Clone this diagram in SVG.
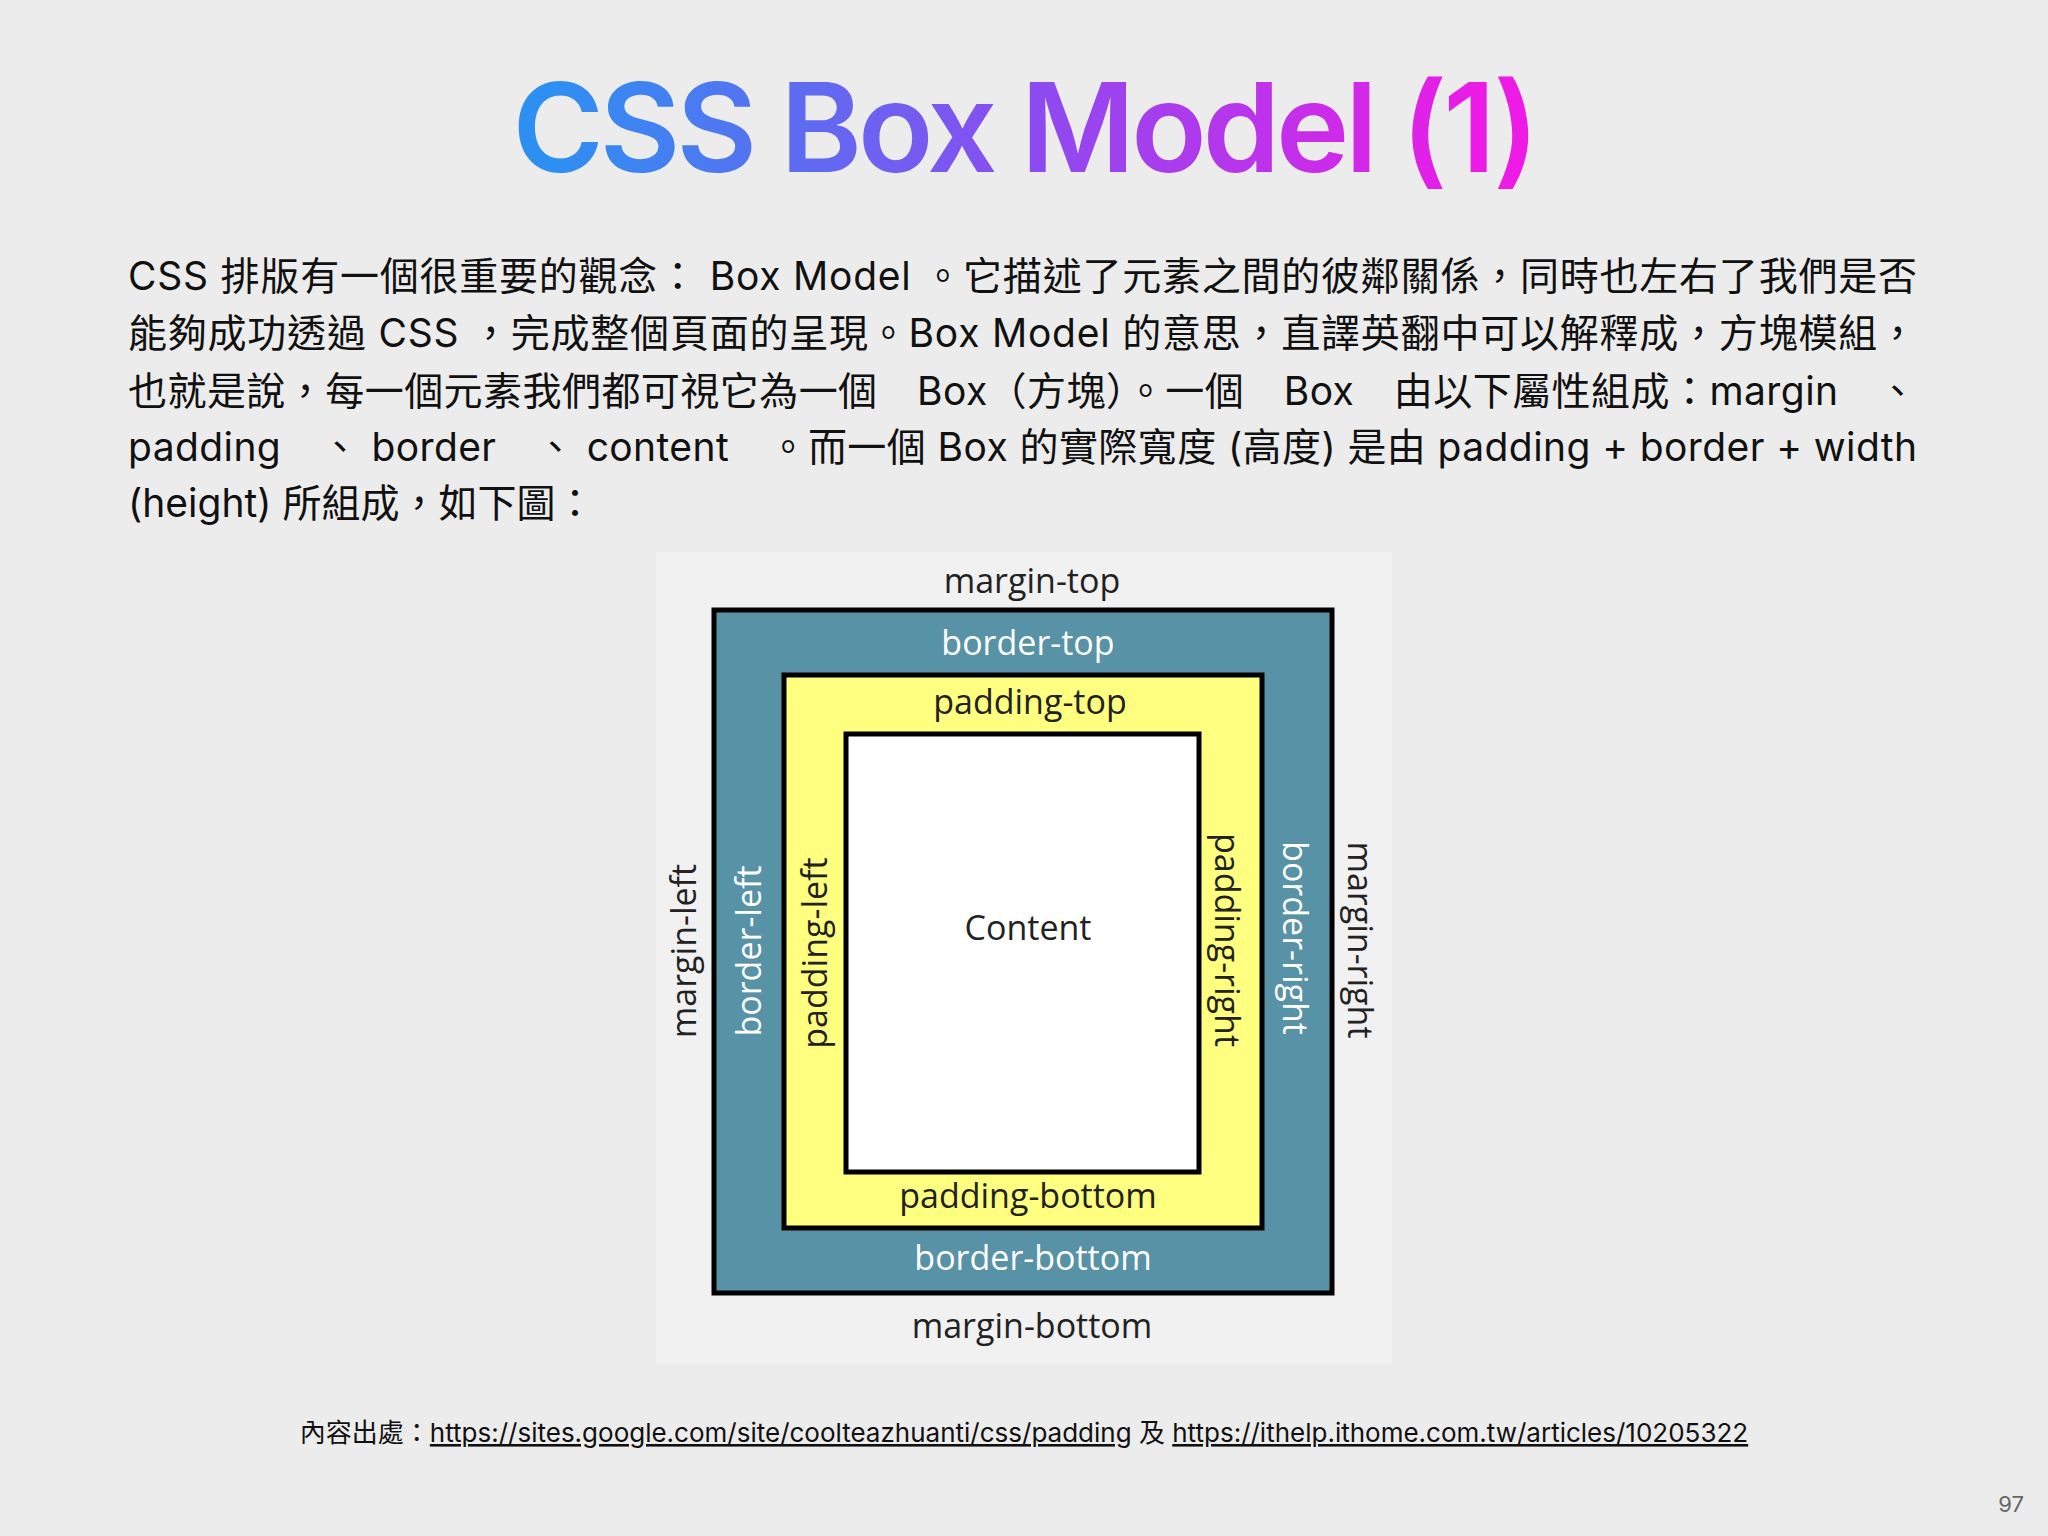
<svg xmlns="http://www.w3.org/2000/svg" width="2048" height="1536" viewBox="0 0 2048 1536">
<defs>
<linearGradient id="tg" x1="555" y1="0" x2="1490" y2="0" gradientUnits="userSpaceOnUse">
<stop offset="0" stop-color="#2e8ff2"/><stop offset="0.5" stop-color="#8a4cf0"/><stop offset="1" stop-color="#ee1ae6"/>
</linearGradient>
<style>
.p{font-family:Inter,"Noto Sans CJK TC",sans-serif;font-size:39px;fill:#111}
.l{font-family:"Open Sans","Noto Sans",sans-serif;font-size:34px;fill:#222;text-anchor:middle}
.w{fill:#fff}
.f{font-family:Inter,"Noto Sans CJK TC",sans-serif;font-size:26px;fill:#111}
</style>
</defs>
<rect width="2048" height="1536" fill="#ececec"/>
<text x="1024" y="172" text-anchor="middle" font-family="Inter,sans-serif" font-weight="600" font-size="124" letter-spacing="-4" fill="url(#tg)">CSS Box Model (1)</text>
<g id="para">
<text class="p" x="128" y="290" textLength="1789" lengthAdjust="spacing">CSS 排版有一個很重要的觀念： Box Model 。它描述了元素之間的彼鄰關係，同時也左右了我們是否</text>
<text class="p" x="128" y="347" textLength="1789" lengthAdjust="spacing">能夠成功透過 CSS ，完成整個頁面的呈現。Box Model 的意思，直譯英翻中可以解釋成，方塊模組，</text>
<text class="p" x="128" y="405" textLength="1789" lengthAdjust="spacing">也就是說，每一個元素我們都可視它為一個　Box（方塊）。一個　Box　由以下屬性組成：margin　、</text>
<text class="p" x="128" y="461" textLength="1789" lengthAdjust="spacing">padding　、 border　、 content　。而一個 Box 的實際寬度 (高度) 是由 padding + border + width</text>
<text class="p" x="128" y="517">(height) 所組成，如下圖：</text>
</g>
<g id="boxmodel">
<rect x="656" y="552" width="736" height="812" fill="#f1f1f1"/>
<rect x="714" y="610" width="618" height="683" fill="#5892a6" stroke="#000" stroke-width="5"/>
<rect x="784" y="675" width="478" height="553" fill="#ffff80" stroke="#000" stroke-width="5"/>
<rect x="846" y="734" width="353" height="438" fill="#fff" stroke="#000" stroke-width="5"/>
<text class="l" x="1032" y="593">margin-top</text>
<text class="l w" x="1028" y="655">border-top</text>
<text class="l" x="1030" y="714">padding-top</text>
<text class="l" x="1028" y="940">Content</text>
<text class="l" x="1028" y="1208">padding-bottom</text>
<text class="l w" x="1033" y="1270">border-bottom</text>
<text class="l" x="1032" y="1338">margin-bottom</text>
<text class="l" transform="translate(683,951) rotate(-90)" dominant-baseline="central">margin-left</text>
<text class="l w" transform="translate(748,951) rotate(-90)" dominant-baseline="central">border-left</text>
<text class="l" transform="translate(814,953) rotate(-90)" dominant-baseline="central">padding-left</text>
<text class="l" transform="translate(1228,940) rotate(90)" dominant-baseline="central">padding-right</text>
<text class="l w" transform="translate(1296,938) rotate(90)" dominant-baseline="central">border-right</text>
<text class="l" transform="translate(1361,940) rotate(90)" dominant-baseline="central">margin-right</text>
</g>
<g id="footer">
<text class="f" x="1024" y="1442" text-anchor="middle">內容出處：<tspan text-decoration="underline">https://sites.google.com/site/coolteazhuanti/css/padding</tspan> 及 <tspan text-decoration="underline">https://ithelp.ithome.com.tw/articles/10205322</tspan></text>
<text x="2024" y="1512" text-anchor="end" font-family="Inter,sans-serif" font-size="22" fill="#666">97</text>
</g>
</svg>
